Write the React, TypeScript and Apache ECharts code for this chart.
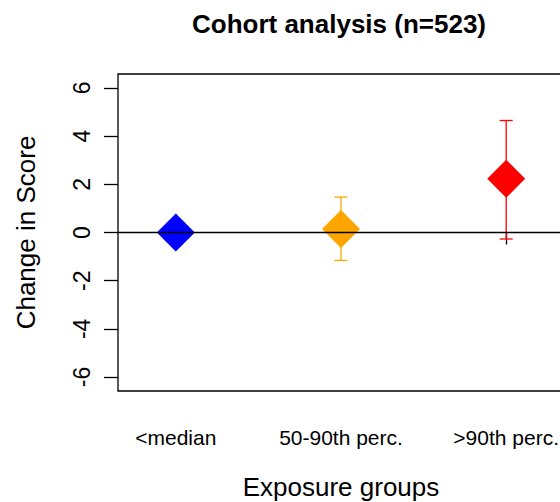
import React, { useEffect, useRef } from "react";
import * as echarts from "echarts";

const categories = ["<median", "50-90th perc.", ">90th perc."];
const groupPositions = [1, 2, 3];
const means = [0, 0.15, 2.23];
const lowerCI = [0, -1.16, -0.27];
const upperCI = [0, 1.47, 4.65];
const colors = ["#0000FF", "#FFA500", "#FF0000"];
const yTicks = [-6, -4, -2, 0, 2, 4, 6];

const FONT = "'Liberation Sans', Arial, Helvetica, sans-serif";

export default function App() {
  const ref = useRef<HTMLDivElement>(null);
  useEffect(() => {
    const chart = echarts.init(ref.current!, null, { renderer: "svg" });
    const renderItem = (params: any, api: any) => {
      const x = api.value(0);
      const lo = api.value(1);
      const hi = api.value(2);
      if (lo === hi) return { type: "group", children: [] };
      const top = api.coord([x, hi]);
      const bot = api.coord([x, lo]);
      const color = colors[params.dataIndex];
      const half = 6.5;
      const style = { stroke: color, lineWidth: 1.3, fill: null };
      return {
        type: "group",
        children: [
          { type: "line", shape: { x1: top[0], y1: top[1], x2: bot[0], y2: bot[1] }, style },
          { type: "line", shape: { x1: top[0] - half, y1: top[1], x2: top[0] + half, y2: top[1] }, style },
          { type: "line", shape: { x1: bot[0] - half, y1: bot[1], x2: bot[0] + half, y2: bot[1] }, style },
        ],
      };
    };
    chart.setOption({
      animation: false,
      backgroundColor: "#fff",
      textStyle: { fontFamily: FONT },
      grid: {
        left: 118,
        top: 74,
        width: 446,
        height: 317,
        show: true,
        borderColor: "#000",
        borderWidth: 1.3,
        backgroundColor: "transparent",
        containLabel: false,
        outerBoundsMode: "none",
      },
      xAxis: {
        type: "value",
        min: 0.65,
        max: 3.35,
        axisLine: { show: false },
        splitLine: { show: false },
        axisTick: {
          show: true,
          customValues: groupPositions,
          length: 12,
          lineStyle: { color: "#000", width: 1.3 },
        },
        axisLabel: {
          customValues: groupPositions,
          formatter: (v: number) => categories[Math.round(v) - 1] ?? "",
          margin: 36,
          fontSize: 21,
          color: "#000",
          fontFamily: FONT,
          hideOverlap: false,
        },
        name: "Exposure groups",
        nameLocation: "middle",
        nameGap: 83,
        nameTextStyle: { fontSize: 26, color: "#000", fontFamily: FONT },
      },
      yAxis: {
        type: "value",
        min: -6.58,
        max: 6.58,
        axisLine: { show: false },
        splitLine: { show: false },
        axisTick: {
          show: true,
          customValues: yTicks,
          length: 14,
          lineStyle: { color: "#000", width: 1.3 },
        },
        axisLabel: {
          customValues: yTicks,
          rotate: 90,
          margin: 25,
          fontSize: 23,
          color: "#000",
          fontFamily: FONT,
        },
        name: "Change in Score",
        nameLocation: "middle",
        nameGap: 79,
        nameTextStyle: { fontSize: 26, color: "#000", fontFamily: FONT },
      },
      graphic: [
        {
          type: "text",
          x: 339,
          y: 24,
          style: {
            text: "Cohort analysis (n=523)",
            fontSize: 26,
            fontWeight: "bold",
            fontFamily: FONT,
            fill: "#000",
            align: "center",
            verticalAlign: "middle",
          },
        },
      ],
      series: [
        {
          type: "custom",
          renderItem,
          encode: { x: 0, y: [1, 2] },
          data: groupPositions.map((p, i) => [p, lowerCI[i], upperCI[i]]),
          z: 1,
        },
        {
          type: "scatter",
          symbol: "diamond",
          symbolSize: 38,
          z: 2,
          itemStyle: { opacity: 1 },
          data: means.map((m, i) => ({
            value: [groupPositions[i], m],
            itemStyle: { color: colors[i], opacity: 1 },
          })),
          markLine: {
            silent: true,
            symbol: "none",
            label: { show: false },
            lineStyle: { color: "#000", width: 1.3, type: "solid", opacity: 1 },
            data: [{ yAxis: 0 }],
          },
        },
      ],
    });
    return () => chart.dispose();
  }, []);
  return (
    <div
      ref={ref}
      style={{ position: "absolute", left: 0, top: 0, width: 560, height: 502 }}
    />
  );
}
